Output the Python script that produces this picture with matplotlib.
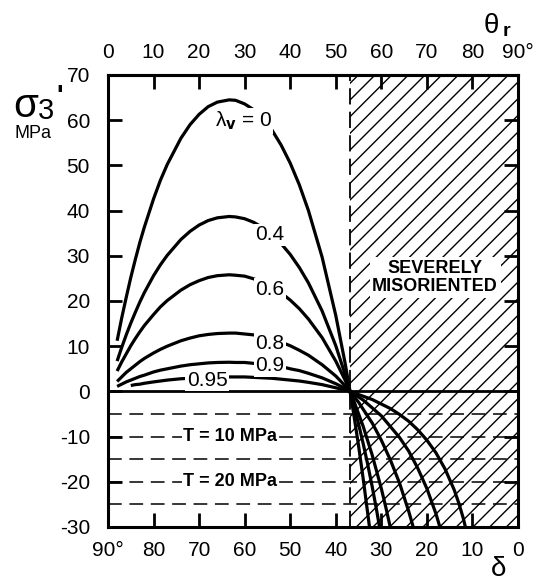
"""Effective least principal stress vs. reactivation angle (sigma3' vs theta_r / delta)."""
import matplotlib
matplotlib.use("Agg")
import matplotlib.pyplot as plt

plt.rcParams['font.family'] = ['Liberation Sans', 'DejaVu Sans']
plt.rcParams['hatch.linewidth'] = 1.0
plt.rcParams['axes.unicode_minus'] = False

# lock-up angle (theta_r) where all curves cross zero
theta_lock = 53.13

# upper (positive) branch, theta_r in degrees
theta_up = [2, 3, 4, 5, 6, 7, 8, 10, 11.5, 13, 16, 18, 20, 22, 24, 26.6, 28, 30,
            32, 34, 36, 38, 40, 42, 44, 47, 50, 52, 53.13]
s3_up_0 = [11.2, 16.2, 20.8, 25.2, 29.2, 33.0, 36.4, 42.6, 46.7, 50.2, 56.0, 59.0, 61.3,
           63.0, 64.0, 64.5, 64.4, 63.6, 62.3, 60.4, 57.8, 54.5, 50.5, 45.7, 40.0, 29.7,
           16.8, 6.5, 0]
s3_up_04 = [6.7, 9.7, 12.5, 15.1, 17.5, 19.8, 21.9, 25.6, 28.0, 30.1, 33.6, 35.4, 36.8,
            37.8, 38.4, 38.7, 38.6, 38.2, 37.4, 36.2, 34.7, 32.7, 30.3, 27.4, 24.0, 17.8,
            10.1, 3.9, 0]
s3_up_06 = [4.5, 6.5, 8.3, 10.1, 11.7, 13.2, 14.6, 17.0, 18.7, 20.1, 22.4, 23.6, 24.5,
            25.2, 25.6, 25.8, 25.7, 25.5, 24.9, 24.1, 23.1, 21.8, 20.2, 18.3, 16.0, 11.9,
            6.7, 2.6, 0]
s3_up_08 = [2.2, 3.2, 4.2, 5.0, 5.8, 6.6, 7.3, 8.5, 9.3, 10.0, 11.2, 11.8, 12.3, 12.6,
            12.8, 12.9, 12.9, 12.7, 12.5, 12.1, 11.6, 10.9, 10.1, 9.1, 8.0, 5.9, 3.4, 1.3, 0]
s3_up_09 = [1.1, 1.6, 2.1, 2.5, 2.9, 3.3, 3.6, 4.3, 4.7, 5.0, 5.6, 5.9, 6.1, 6.3, 6.4,
            6.45, 6.4, 6.4, 6.2, 6.0, 5.8, 5.5, 5.0, 4.6, 4.0, 3.0, 1.7, 0.7, 0]
theta_up_095 = theta_up[3:]
s3_up_095 = [1.3, 1.5, 1.6, 1.8, 2.1, 2.3, 2.5, 2.8, 2.9, 3.1, 3.1, 3.2, 3.2, 3.2, 3.2,
             3.1, 3.0, 2.9, 2.7, 2.5, 2.3, 2.0, 1.5, 0.8, 0.3, 0]

# lower (negative) branch, each curve runs down to -30 MPa
theta_dn_0 = [53.13, 53.5, 54, 55, 56, 57, 57.4]
s3_dn_0 = [0, -2.25, -5.4, -12.0, -19.2, -26.9, -30.0]
theta_dn_04 = [53.13, 54, 55, 56, 57, 58, 59, 59.6]
s3_dn_04 = [0, -3.2, -7.2, -11.5, -16.1, -21.1, -26.5, -30.0]
theta_dn_06 = [53.13, 54, 56, 58, 60, 61, 61.95]
s3_dn_06 = [0, -2.2, -7.7, -14.1, -21.5, -25.7, -30.0]
theta_dn_08 = [53.13, 55, 58, 60, 62, 64, 66, 67]
s3_dn_08 = [0, -2.4, -7.0, -10.8, -15.2, -20.3, -26.5, -30.0]
theta_dn_09 = [53.13, 56, 60, 64, 66, 68, 70, 72, 72.85]
s3_dn_09 = [0, -1.9, -5.4, -10.2, -13.2, -17.0, -21.5, -27.1, -30.0]
theta_dn_095 = [53.13, 58, 62, 64, 66, 68, 70, 72, 74, 76, 77, 78, 78.45]
s3_dn_095 = [0, -1.8, -3.8, -5.1, -6.6, -8.5, -10.8, -13.6, -17.2, -21.8, -24.7, -28.1, -30.0]

curves = [
    (theta_up, s3_up_0, theta_dn_0, s3_dn_0),
    (theta_up, s3_up_04, theta_dn_04, s3_dn_04),
    (theta_up, s3_up_06, theta_dn_06, s3_dn_06),
    (theta_up, s3_up_08, theta_dn_08, s3_dn_08),
    (theta_up, s3_up_09, theta_dn_09, s3_dn_09),
    (theta_up_095, s3_up_095, theta_dn_095, s3_dn_095),
]

# curve labels: text, theta_r, sigma3'
curve_labels = [
    (r'λ$_{\mathbf{v}}$ = 0', 29.7, 59.8),
    ('0.4', 35.6, 34.7),
    ('0.6', 35.6, 22.6),
    ('0.8', 35.6, 10.5),
    ('0.9', 35.6, 5.7),
    ('0.95', 21.8, 2.5),
]

tension_levels = [-5, -10, -15, -20, -25]
tension_labels = [('T = 10 MPa', -10), ('T = 20 MPa', -20)]

x_ticks = list(range(0, 91, 10))
top_labels = ['0', '10', '20', '30', '40', '50', '60', '70', '80', '90°']
bottom_labels = ['90°', '80', '70', '60', '50', '40', '30', '20', '10', '0']
y_ticks = list(range(-30, 71, 10))

fig = plt.figure(figsize=(5.39, 5.84), dpi=100)
ax = fig.add_axes([108 / 539, 57 / 584, 410 / 539, 452 / 584])

# severely misoriented zone
ax.axvspan(theta_lock, 90, facecolor='none', edgecolor='black', hatch='//',
           linewidth=0, zorder=1)
ax.axvline(theta_lock, color='black', lw=1.3, linestyle=(0, (9, 4)), zorder=2)

# tension cut-off levels
for lvl in tension_levels:
    ax.axhline(lvl, color='black', lw=1.1, linestyle=(0, (9, 5)), zorder=2)
ax.axhline(0, color='black', lw=2.0, zorder=3)

for t_up, s_up, t_dn, s_dn in curves:
    ax.plot(t_up, s_up, color='black', lw=2.3, zorder=4, solid_capstyle='butt')
    ax.plot(t_dn, s_dn, color='black', lw=2.3, zorder=4, solid_capstyle='butt')

box = dict(facecolor='white', edgecolor='none', pad=1.0)
for txt, xv, yv in curve_labels:
    ax.text(xv, yv, txt, fontsize=15, ha='center', va='center', bbox=box, zorder=5)

for txt, yv in tension_labels:
    ax.text(26.8, yv, txt, fontsize=13, fontweight='bold', ha='center', va='center',
            bbox=dict(facecolor='white', edgecolor='none', pad=0.5), zorder=5)

ax.text(71.8, 25.2, 'SEVERELY\nMISORIENTED', fontsize=13, fontweight='bold',
        ha='center', va='center', linespacing=1.15,
        bbox=dict(facecolor='white', edgecolor='none', pad=2.0), zorder=5)

ax.set_xlim(0, 90)
ax.set_ylim(-30, 70)
ax.set_xticks(x_ticks)
ax.set_xticklabels(bottom_labels)
ax.set_yticks(y_ticks)
ax.tick_params(direction='in', length=10, width=2, labelsize=15, pad=10,
               right=True)
ax.tick_params(axis='y', pad=13)
for sp in ax.spines.values():
    sp.set_linewidth(2.2)

top = ax.secondary_xaxis('top')
top.set_xticks(x_ticks)
top.set_xticklabels(top_labels)
top.tick_params(direction='in', length=10, width=2, labelsize=15, pad=9)
top.spines['top'].set_linewidth(2.2)

# axis titles
fig.text(13 / 539, 1 - 117 / 584, 'σ', fontsize=29, va='baseline')
fig.text(38 / 539, 1 - 119 / 584, '3', fontsize=21, va='baseline')
fig.text(56 / 539, 1 - 104 / 584, "'", fontsize=20, fontweight='bold', va='baseline')
fig.text(14 / 539, 1 - 138 / 584, 'MPa', fontsize=13, va='baseline')
fig.text(484 / 539, 1 - 33 / 584, 'θ', fontsize=20, va='baseline')
fig.text(503 / 539, 1 - 36 / 584, 'r', fontsize=14, fontweight='bold', va='baseline')
fig.text(499 / 539, 1 - 576 / 584, 'δ', fontsize=20, ha='center', va='baseline')

fig.savefig('out.png', dpi=100, facecolor='white')
